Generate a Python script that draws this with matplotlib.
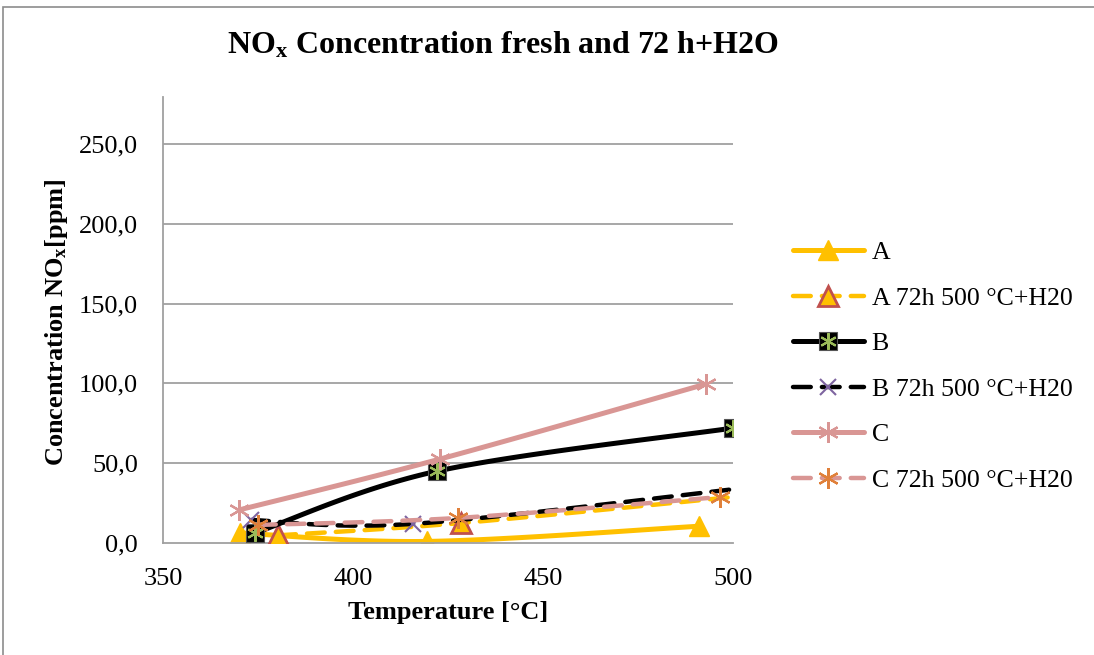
import numpy as np
import matplotlib
matplotlib.use("Agg")
import matplotlib.pyplot as plt
from matplotlib.lines import Line2D
from matplotlib.legend_handler import HandlerTuple
from matplotlib.patches import Rectangle

plt.rcParams['font.family'] = ['Liberation Serif', 'DejaVu Serif']
plt.rcParams['mathtext.fontset'] = 'custom'
plt.rcParams['mathtext.rm'] = 'Liberation Serif'
plt.rcParams['mathtext.bf'] = 'Liberation Serif:bold'
plt.rcParams['mathtext.it'] = 'Liberation Serif:italic'

# ---- data ----
a_x = [370.3, 419.5, 491.0]
a_y = [6.3, 1.0, 10.5]
a72_x = [380.3, 428.4, 505.0]
a72_y = [4.8, 12.5, 30.0]
b_x = [374.2, 422.1, 500.0]
b_y = [6.3, 45.0, 72.0]
b72_x = [373.2, 415.8, 505.0]
b72_y = [14.4, 12.0, 35.0]
c_x = [370.0, 422.9, 492.9]
c_y = [20.7, 52.6, 99.6]
c72_x = [375.0, 427.6, 496.6]
c72_y = [11.3, 15.7, 28.8]

labels = ["A", "A 72h 500 °C+H20", "B", "B 72h 500 °C+H20", "C", "C 72h 500 °C+H20"]
x_ticks = [350, 400, 450, 500]
y_ticks = [0, 50, 100, 150, 200, 250]


def smooth(xs, ys, n=40):
    p = np.column_stack([xs, ys]).astype(float)
    ext = np.vstack([p[0], p, p[-1]])
    out = []
    for i in range(len(p) - 1):
        p0, p1, p2, p3 = ext[i], ext[i + 1], ext[i + 2], ext[i + 3]
        c1 = p1 + (p2 - p0) / 6.0
        c2 = p2 - (p3 - p1) / 6.0
        t = np.linspace(0, 1, n)[:, None]
        seg = ((1 - t) ** 3) * p1 + 3 * ((1 - t) ** 2) * t * c1 + 3 * (1 - t) * t ** 2 * c2 + t ** 3 * p2
        out.append(seg if i == 0 else seg[1:])
    s = np.vstack(out)
    return s[:, 0], s[:, 1]


YEL = '#FFC000'
PINK = '#D99694'
BLACK = '#000000'

fig = plt.figure(figsize=(10.94, 6.55), dpi=100)
ax = fig.add_axes([163 / 1094, 1 - 543 / 655, (733 - 163) / 1094, (543 - 97) / 655])

ax.set_xlim(350, 500)
ax.set_ylim(0, 279.4)
ax.set_xticks(x_ticks)
ax.set_yticks(y_ticks)
ax.set_yticklabels([f"{v:.1f}".replace('.', ',') for v in y_ticks])
ax.tick_params(length=0, labelsize=19)
ax.tick_params(axis='x', pad=18)
ax.tick_params(axis='y', pad=18)
for s in ['top', 'right']:
    ax.spines[s].set_visible(False)
for s in ['left', 'bottom']:
    ax.spines[s].set_color('#a0a0a0')
    ax.spines[s].set_linewidth(1.3)
for v in y_ticks[1:]:
    ax.axhline(v, color='#a0a0a0', lw=1.3, zorder=0)

lw_s = 3.6
lw_d = 3.2
dash = (4, 2.5)

series = [
    (a_x, a_y, dict(color=YEL, lw=lw_s), dict(marker='^', ms=15, mfc=YEL, mec=YEL, mew=1)),
    (a72_x, a72_y, dict(color=YEL, lw=lw_d, dashes=dash), dict(marker='^', ms=14, mfc=YEL, mec='#C0504D', mew=2)),
    (b_x, b_y, dict(color=BLACK, lw=lw_s), dict(marker='s', ms=13, mfc=BLACK, mec='#555555', mew=0.8)),
    (b72_x, b72_y, dict(color=BLACK, lw=lw_d, dashes=dash), dict(marker='x', ms=12, mfc='none', mec='#7E64A0', mew=1.5)),
    (c_x, c_y, dict(color=PINK, lw=lw_s), dict(marker=(6, 2, 0), ms=15, mfc='none', mec=PINK, mew=1.6)),
    (c72_x, c72_y, dict(color=PINK, lw=lw_d, dashes=dash), dict(marker=(6, 2, 0), ms=15, mfc='none', mec='#E0803A', mew=1.6)),
]

handles = []
zl = 2
for i, (xs, ys, lkw, mkw) in enumerate(series):
    sx, sy = smooth(xs, ys)
    ax.plot(sx, sy, solid_capstyle='round', dash_capstyle='round', zorder=zl, **lkw)
    ax.plot(xs, ys, ls='none', zorder=zl + 0.5, **mkw)
    h = Line2D([], [], solid_capstyle='round', dash_capstyle='round', **lkw, **mkw)
    if i == 2:
        ax.plot(xs, ys, ls='none', marker=(6, 2, 0), ms=12, mec='#9BBB59', mew=1.5, zorder=zl + 0.6)
        h2 = Line2D([], [], ls='none', marker=(6, 2, 0), ms=12, mec='#9BBB59', mew=1.5)
        h = (h, h2)
    handles.append(h)
    zl += 1

leg = ax.legend(handles, labels, loc='upper left', bbox_to_anchor=(780 / 1094, 1 - 228 / 655),
                bbox_transform=fig.transFigure, frameon=False, fontsize=18.6,
                handlelength=2.75, handletextpad=0.3, labelspacing=0.87, borderpad=0,
                handler_map={tuple: HandlerTuple(ndivide=1, pad=0)})

fig.text(503 / 1094, 1 - 45 / 655, r"NO$_\mathbf{x}$ Concentration fresh and 72 h+H2O",
         ha='center', va='center', fontsize=23, fontweight='bold')
fig.text(448 / 1094, 1 - 612 / 655, "Temperature [°C]", ha='center', va='center',
         fontsize=19, fontweight='bold')
fig.text(57 / 1094, 1 - 322 / 655, r"Concentration NO$_\mathbf{x}$[ppm]", ha='center', va='center',
         fontsize=19, fontweight='bold', rotation=90)

fig.patches.append(Rectangle((3 / 1094, -0.05), 1.05, 1 - 7 / 655 + 0.05, transform=fig.transFigure,
                             fill=False, ec='#8c8c8c', lw=1.2))

fig.savefig('out.png', dpi=100)
